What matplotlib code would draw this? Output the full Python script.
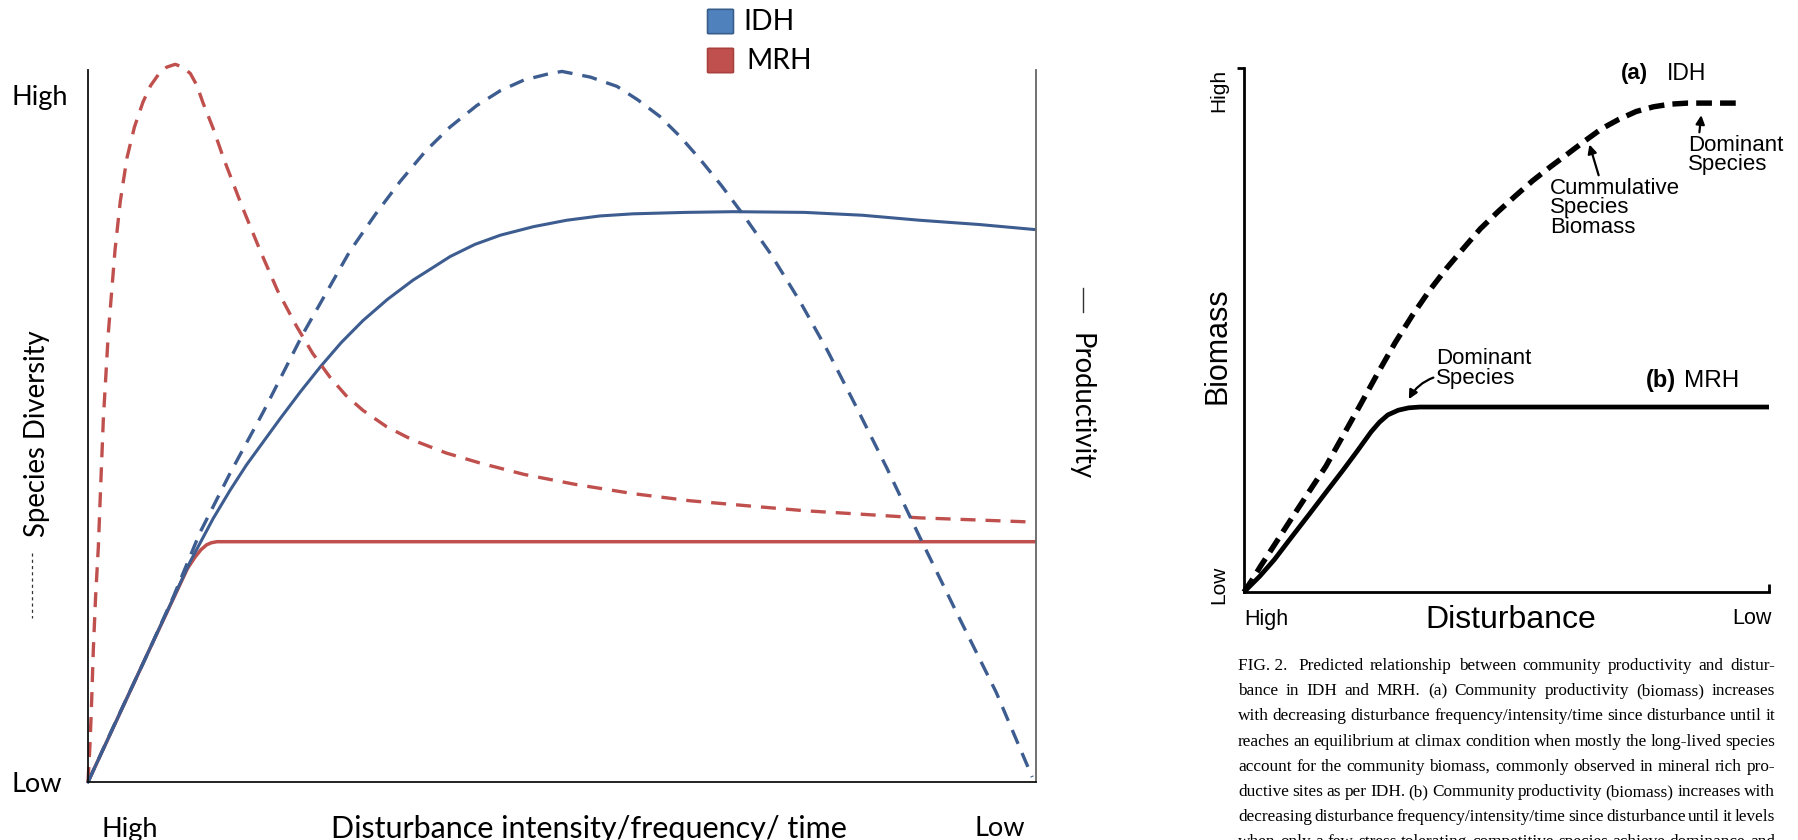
import matplotlib
matplotlib.use("Agg")
import matplotlib.pyplot as plt
from matplotlib.patches import FancyBboxPatch
from matplotlib.lines import Line2D

W, H = 1798, 840

# left chart: x = disturbance (0 = high, 1 = low), y = relative level
idh_div_x = [0.0, 0.03, 0.06, 0.09, 0.118, 0.15, 0.185, 0.227, 0.276, 0.303, 0.329, 0.356,
             0.382, 0.41, 0.435, 0.46, 0.487, 0.5, 0.53, 0.558, 0.58, 0.603, 0.625, 0.646,
             0.668, 0.691, 0.72, 0.751, 0.78, 0.81, 0.843, 0.877, 0.917, 0.958, 0.996]
idh_div_y = [0.0, 0.087, 0.172, 0.26, 0.35, 0.434, 0.52, 0.63, 0.745, 0.797, 0.843, 0.886,
             0.92, 0.95, 0.971, 0.986, 0.995, 0.998, 0.99, 0.977, 0.958, 0.935, 0.906, 0.874,
             0.838, 0.797, 0.742, 0.675, 0.606, 0.528, 0.44, 0.345, 0.236, 0.126, 0.007]

idh_prod_x = [0.0, 0.062, 0.108, 0.132, 0.15, 0.167, 0.185, 0.2025, 0.224, 0.245, 0.267,
              0.29, 0.316, 0.343, 0.362, 0.382, 0.408, 0.435, 0.47, 0.505, 0.54, 0.575,
              0.63, 0.681, 0.72, 0.756, 0.817, 0.877, 0.94, 0.998]
idh_prod_y = [0.0, 0.178, 0.31, 0.37, 0.41, 0.445, 0.478, 0.51, 0.548, 0.583, 0.617,
              0.648, 0.678, 0.705, 0.721, 0.738, 0.755, 0.768, 0.78, 0.789, 0.795, 0.798,
              0.8, 0.801, 0.8005, 0.8, 0.796, 0.789, 0.783, 0.776]

mrh_div_x = [0.0, 0.002, 0.0035, 0.0056, 0.008, 0.0109, 0.0135, 0.0162, 0.0214, 0.0285,
             0.034, 0.041, 0.049, 0.058, 0.066, 0.075, 0.083, 0.092, 0.1, 0.108, 0.115,
             0.121, 0.132, 0.143, 0.162, 0.1814, 0.2, 0.22, 0.237, 0.255, 0.272, 0.29,
             0.315, 0.343, 0.378, 0.4135, 0.46, 0.514, 0.575, 0.635, 0.695, 0.756, 0.817,
             0.877, 0.938, 0.998]
mrh_div_y = [0.0, 0.05, 0.1, 0.185, 0.26, 0.33, 0.42, 0.51, 0.63, 0.747,
             0.815, 0.876, 0.92, 0.955, 0.978, 0.995, 1.004, 1.008, 1.004, 0.995, 0.978,
             0.955, 0.918, 0.876, 0.81, 0.747, 0.69, 0.64, 0.602, 0.569, 0.543, 0.522,
             0.499, 0.48, 0.462, 0.448, 0.432, 0.418, 0.405, 0.395, 0.388, 0.381, 0.376,
             0.371, 0.368, 0.365]

mrh_prod_x = [0.0, 0.062, 0.105, 0.113, 0.119, 0.125, 0.13, 0.136, 1.0]
mrh_prod_y = [0.0, 0.178, 0.3, 0.316, 0.326, 0.333, 0.336, 0.3375, 0.3375]

# right chart (black and white figure)
b_idh_x = [0.0, 0.016, 0.032, 0.06, 0.091, 0.123, 0.156, 0.189, 0.222, 0.255, 0.288, 0.32,
           0.353, 0.386, 0.419, 0.45, 0.484, 0.517, 0.55, 0.583, 0.615, 0.648, 0.681, 0.714,
           0.747, 0.78, 0.812, 0.845, 0.878, 0.947]
b_idh_y = [0.0, 0.024, 0.05, 0.093, 0.141, 0.19, 0.24, 0.299, 0.358, 0.418, 0.476, 0.527,
           0.575, 0.618, 0.657, 0.693, 0.726, 0.756, 0.785, 0.811, 0.835, 0.86, 0.884, 0.902,
           0.917, 0.926, 0.931, 0.933, 0.933, 0.933]
b_mrh_x = [0.0, 0.03, 0.058, 0.09, 0.124, 0.156, 0.189, 0.215, 0.242, 0.258, 0.274, 0.294,
           0.314, 0.335, 0.353, 1.0]
b_mrh_y = [0.0, 0.03, 0.062, 0.104, 0.148, 0.19, 0.233, 0.268, 0.3055, 0.324, 0.338, 0.347,
           0.3515, 0.353, 0.353, 0.353]

caption = [
    "FIG. 2.   Predicted relationship between community productivity and distur-",
    "bance in IDH and MRH. (a) Community productivity (biomass) increases",
    "with decreasing disturbance frequency/intensity/time since disturbance until it",
    "reaches an equilibrium at climax condition when mostly the long-lived species",
    "account for the community biomass, commonly observed in mineral rich pro-",
    "ductive sites as per IDH. (b) Community productivity (biomass) increases with",
    "decreasing disturbance frequency/intensity/time since disturbance until it levels",
    "when only a few stress tolerating competitive species achieve dominance and",
]

BLUE = "#3D5C8F"
RED = "#C0504D"
SANS = "Lato"

fig = plt.figure(figsize=(W / 100, H / 100), dpi=100)

# ---------------- left chart ----------------
ax1 = fig.add_axes([88 / W, 1 - 782 / H, (1036 - 88) / W, (782 - 70) / H])
ax1.set_xlim(0, 1)
ax1.set_ylim(0, 1)
ax1.set_xticks([])
ax1.set_yticks([])
ax1.spines["top"].set_visible(False)
for s in ["left", "bottom"]:
    ax1.spines[s].set_linewidth(1.3)
    ax1.spines[s].set_color("#111111")
ax1.spines["right"].set_linewidth(1.3)
ax1.spines["right"].set_color("#666666")

ax1.plot(mrh_prod_x, mrh_prod_y, color=RED, lw=2.5, clip_on=False, solid_capstyle="butt")
ax1.plot(idh_prod_x, idh_prod_y, color=BLUE, lw=2.2, clip_on=False)
ax1.plot(mrh_div_x, mrh_div_y, color=RED, lw=2.4, ls=(0, (4.5, 3.0)), clip_on=False)
ax1.plot(idh_div_x, idh_div_y, color=BLUE, lw=2.4, ls=(0, (4.5, 3.0)), clip_on=False)

fig.text(11 / W, 1 - 97 / H, "High", family=SANS, fontsize=19.5, ha="left", va="center")
fig.text(11 / W, 1 - 784 / H, "Low", family=SANS, fontsize=19.5, ha="left", va="center")
fig.text(130 / W, 1 - 829 / H, "High", family=SANS, fontsize=19.5, ha="center", va="center")
fig.text(589 / W, 1 - 829 / H, "Disturbance intensity/frequency/ time", family=SANS,
         fontsize=22, ha="center", va="center")
fig.text(1000 / W, 1 - 829 / H, "Low", family=SANS, fontsize=19.5, ha="center", va="center")

fig.text(37 / W, 1 - 434 / H, "Species Diversity", family=SANS, fontsize=19.8,
         rotation=90, ha="center", va="center")
fig.add_artist(Line2D([32 / W, 32 / W], [1 - 553 / H, 1 - 618 / H], transform=fig.transFigure,
                      color="#333333", lw=0.9, ls=(0, (2.5, 2.5))))
fig.text(1080 / W, 1 - 407 / H, "Productivity", family=SANS, fontsize=19.8,
         rotation=270, ha="center", va="center")
fig.add_artist(Line2D([1083 / W, 1083 / W], [1 - 288 / H, 1 - 312 / H], transform=fig.transFigure,
                      color="#333333", lw=1.0))

# legend squares
for (y0, fc, ec, lab, tx) in [(10, "#4F81BD", "#385D8A", "IDH", 743), (49, RED, "#A8403D", "MRH", 746)]:
    fig.patches.append(FancyBboxPatch((709 / W, 1 - (y0 + 23) / H), 23 / W, 23 / H,
                                      boxstyle="round,pad=0.0008", transform=fig.transFigure,
                                      fc=fc, ec=ec, lw=1.2))
    fig.text(tx / W, 1 - (y0 + 12) / H, lab, family=SANS, fontsize=20.3, ha="left", va="center")

# ---------------- right chart ----------------
ax2 = fig.add_axes([1244 / W, 1 - 592 / H, (1769 - 1244) / W, (592 - 68) / H])
ax2.set_xlim(0, 1)
ax2.set_ylim(0, 1)
ax2.spines["top"].set_visible(False)
ax2.spines["right"].set_visible(False)
for s in ["left", "bottom"]:
    ax2.spines[s].set_linewidth(2.0)
ax2.set_xticks([1])
ax2.set_yticks([1])
ax2.tick_params(axis="x", direction="in", length=6, width=2, labelbottom=False)
ax2.tick_params(axis="y", direction="out", length=5, width=2, labelleft=False)

ax2.plot(b_mrh_x, b_mrh_y, color="black", lw=3.4, clip_on=False, solid_capstyle="butt")
ax2.plot(b_idh_x, b_idh_y, color="black", lw=3.9, ls=(0, (2.9, 1.5)), clip_on=False)

RS = "Liberation Sans"
fig.text(1219 / W, 1 - 90 / H, "High", family=RS, fontsize=15, rotation=90, ha="center", va="center")
fig.text(1219 / W, 1 - 585 / H, "Low", family=RS, fontsize=15, rotation=90, ha="center", va="center")
fig.text(1217 / W, 1 - 346 / H, "Biomass", family=RS, fontsize=22, rotation=90, ha="center", va="center")
fig.text(1244 / W, 1 - 619 / H, "High", family=RS, fontsize=15.5, ha="left", va="center")
fig.text(1511 / W, 1 - 620 / H, "Disturbance", family=RS, fontsize=23, ha="center", va="center")
fig.text(1772 / W, 1 - 619 / H, "Low", family=RS, fontsize=15.5, ha="right", va="center")

ax2.text(0.717, 0.99, "(a)", family=RS, fontsize=16, fontweight="bold", ha="left", va="center")
ax2.text(0.806, 0.99, "IDH", family=RS, fontsize=16.5, ha="left", va="center")
ax2.text(0.766, 0.403, "(b)", family=RS, fontsize=17, fontweight="bold", ha="left", va="center")
ax2.text(0.838, 0.403, "MRH", family=RS, fontsize=17.5, ha="left", va="center")

arrow = dict(arrowstyle="-|>", color="black", lw=1.6, mutation_scale=13, shrinkA=0, shrinkB=0)
ax2.annotate("Dominant\nSpecies", xy=(0.871, 0.91), xytext=(0.845, 0.872), family=RS,
             fontsize=16, ha="left", va="top", linespacing=0.9, annotation_clip=False,
             arrowprops=dict(arrow, relpos=(0.12, 1.0)))
ax2.annotate("Cummulative\nSpecies\nBiomass", xy=(0.658, 0.854), xytext=(0.583, 0.79), family=RS,
             fontsize=16, ha="left", va="top", linespacing=0.9, annotation_clip=False,
             arrowprops=dict(arrow, relpos=(0.38, 1.0)))
ax2.annotate("Dominant\nSpecies", xy=(0.314, 0.368), xytext=(0.366, 0.465), family=RS,
             fontsize=16, ha="left", va="top", linespacing=0.9, annotation_clip=False,
             arrowprops=dict(arrow, relpos=(0.0, 0.3), connectionstyle="arc3,rad=0.2"))

# caption, justified line by line, one common font size
renderer = fig.canvas.get_renderer()
x0, x1 = 1238, 1775
cap_words = []
for line in caption:
    words = line.split()
    if words[0] == "FIG.":
        words = ["FIG. 2. "] + words[2:]
    cap_words.append(words)


def word_widths(words, size):
    out = []
    for w in words:
        t = fig.text(0, 0, w, family="Liberation Serif", fontsize=size)
        out.append(t.get_window_extent(renderer).width)
        t.remove()
    return out


size = 12.8
while size > 10:
    ok = all((x1 - x0 - sum(word_widths(ws, size))) / (len(ws) - 1) >= 2.2 for ws in cap_words)
    if ok:
        break
    size -= 0.1

for i, words in enumerate(cap_words):
    yc = 1 - (666 + 25.2 * i) / H
    widths = word_widths(words, size)
    gap = (x1 - x0 - sum(widths)) / (len(words) - 1)
    x = x0
    for w, wd in zip(words, widths):
        fig.text(x / W, yc, w, family="Liberation Serif", fontsize=size, ha="left", va="center")
        x += wd + gap

fig.savefig("out.png", dpi=100, facecolor="white")
